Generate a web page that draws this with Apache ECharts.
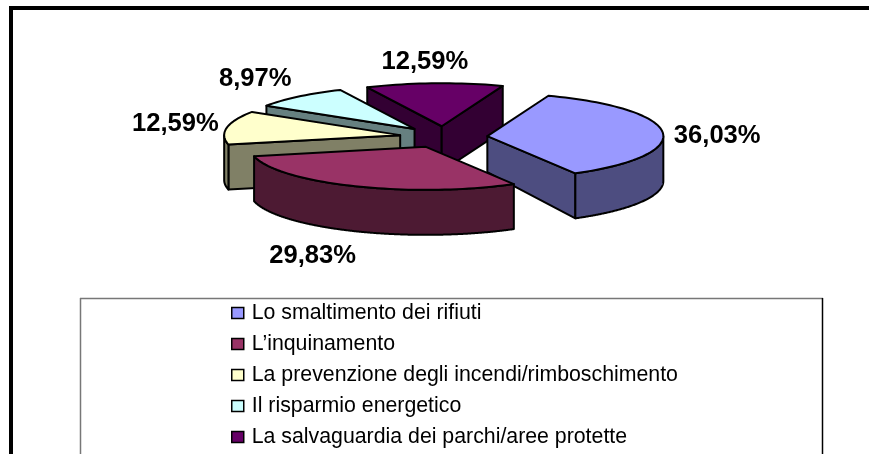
<!DOCTYPE html>
<html><head><meta charset="utf-8">
<style>html,body{margin:0;padding:0;background:#fff}#c{width:869px;height:454px}</style>
<script src="https://cdn.jsdelivr.net/npm/echarts@6/dist/echarts.min.js"></script>
</head><body><div id="c"></div>
<script>
// Data
var categories = ['Lo smaltimento dei rifiuti', 'L\u2019inquinamento', 'La prevenzione degli incendi/rimboschimento', 'Il risparmio energetico', 'La salvaguardia dei parchi/aree protette'];
var percentages = [36.03, 29.83, 12.59, 8.97, 12.59];
// Style
var topColors = ['#9999FF', '#993366', '#FFFFCC', '#CCFFFF', '#660066'];
var wallColors = ['#4D4D80', '#4D1A33', '#808066', '#668080', '#330033'];
var paintOrder = [4, 3, 2, 0, 1];
var cx = 443.5, cy = 137, rx = 176, ry = 43, depth = 45, explode = 0.25, startDeg = 20.3;
var apexDepth = [36, 45, 45, 45, 45];
var labelNudge = [[54.5, 3], [-42.5, 70], [-51.5, -4], [-43.5, -18], [-9.5, -21]];

var total = percentages.reduce(function (a, b) { return a + b; }, 0);
function fmt(v) { return v.toFixed(2).replace('.', ',') + '%'; }
function rim(ax, ay, deg) {
  var t = deg * Math.PI / 180;
  return [ax + rx * Math.sin(t), ay - ry * Math.cos(t)];
}
function poly(points, fill, z) {
  return { type: 'polygon', z2: z, shape: { points: points },
    style: { fill: fill, stroke: '#000', lineWidth: 2, lineJoin: 'round' } };
}
function wall(a, b, da, db, fill, z) {
  return poly([a, b, [b[0], b[1] + db], [a[0], a[1] + da]], fill, z);
}
function renderSlice(i) {
  return function (params, api) {
    var before = 0;
    for (var k = 0; k < i; k++) before += percentages[k];
    var a0 = startDeg + before / total * 360;
    var a1 = a0 + api.value(0) / total * 360;
    var mid = (a0 + a1) / 2;
    var m = rim(cx, cy, mid);
    var apex = [cx + (m[0] - cx) * explode, cy + (m[1] - cy) * explode];
    var d0 = apexDepth[i];
    var arc = [], step = 2, n = Math.ceil((a1 - a0) / step), j;
    for (j = 0; j <= n; j++) arc.push(rim(apex[0], apex[1], a0 + (a1 - a0) * j / n));
    var top = [apex].concat(arc);
    var children = [];
    var p0 = arc[0], p1 = arc[arc.length - 1];
    if (p0[0] < apex[0]) children.push(wall(apex, p0, d0, depth, wallColors[i], 1));
    if (apex[0] < p1[0]) children.push(wall(p1, apex, depth, d0, wallColors[i], 1));
    var outer = [], lower = [];
    for (j = 0; j <= 360; j++) {
      var deg = a0 + (a1 - a0) * j / 360;
      var norm = ((deg % 360) + 360) % 360;
      if (norm >= 90 && norm <= 270) {
        var q = rim(apex[0], apex[1], deg);
        outer.push(q);
        lower.unshift([q[0], q[1] + depth]);
      }
    }
    if (outer.length > 1) children.push(poly(outer.concat(lower), wallColors[i], 2));
    children.push(poly(top, topColors[i], 3));
    var lp = rim(apex[0], apex[1], mid);
    var nudge = labelNudge[i];
    children.push({ type: 'text', z2: 5, style: {
      x: lp[0] + nudge[0], y: lp[1] + nudge[1], text: fmt(api.value(0)),
      font: 'bold 25.6px "Liberation Sans", Arial, sans-serif', fill: '#000',
      align: 'center', verticalAlign: 'middle' } });
    return { type: 'group', children: children };
  };
}

var series = categories.map(function (name, i) {
  return {
    name: name, type: 'custom', coordinateSystem: 'none', silent: true, animation: false,
    z: 10 + paintOrder.indexOf(i),
    itemStyle: { color: topColors[i] },
    data: [[percentages[i]]],
    renderItem: renderSlice(i)
  };
});

var chart = echarts.init(document.getElementById('c'), null, { renderer: 'canvas' });
chart.setOption({
  animation: false,
  backgroundColor: '#fff',
  legend: {
    data: categories, orient: 'vertical', left: 231, top: 302.5, selectedMode: false,
    icon: 'rect', itemWidth: 12, itemHeight: 11, itemGap: 10, padding: 0,
    itemStyle: { borderColor: '#000', borderWidth: 1.5 },
    textStyle: { fontFamily: '"Liberation Sans", Arial, sans-serif', fontSize: 21.3, color: '#000', lineHeight: 21, padding: [0, 0, 0, 3] }
  },
  graphic: [
    { type: 'line', z: 1, shape: { x1: 80, y1: 298.5, x2: 823, y2: 298.5 }, style: { stroke: '#777', lineWidth: 1.5 } },
    { type: 'line', z: 1, shape: { x1: 80.5, y1: 298, x2: 80.5, y2: 454 }, style: { stroke: '#777', lineWidth: 1.5 } },
    { type: 'line', z: 1, shape: { x1: 822.5, y1: 298, x2: 822.5, y2: 454 }, style: { stroke: '#000', lineWidth: 1.5 } },
    { type: 'line', z: 1, shape: { x1: 9, y1: 8, x2: 869, y2: 8 }, style: { stroke: '#000', lineWidth: 4 } },
    { type: 'line', z: 1, shape: { x1: 11, y1: 6, x2: 11, y2: 454 }, style: { stroke: '#000', lineWidth: 4 } }
  ],
  series: series
});
</script></body></html>
